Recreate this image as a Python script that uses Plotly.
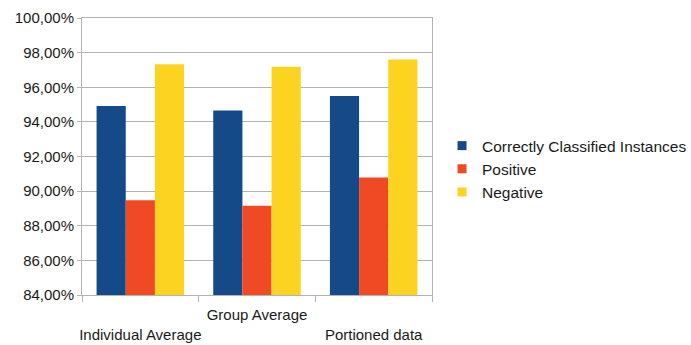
import plotly.graph_objects as go

categories = ["Individual Average", "Group Average", "Portioned data"]
tick_text = ["<br>Individual Average", "Group Average", "<br>Portioned data"]
series_names = ["Correctly Classified Instances", "Positive", "Negative"]
correct = [0.9492, 0.9465, 0.9550]
positive = [0.8947, 0.8916, 0.9078]
negative = [0.9733, 0.9718, 0.9760]
colors = ["#134a87", "#ef4a23", "#fdd322"]

fig = go.Figure()
for name, vals, col in zip(series_names, [correct, positive, negative], colors):
    fig.add_trace(go.Bar(x=categories, y=vals, name=name, marker_color=col,
                         marker_line_width=0, showlegend=False))
    # small square legend swatch
    fig.add_trace(go.Scatter(x=[None], y=[None], mode="markers", name=name,
                             marker=dict(symbol="square", size=9, color=col)))

grid = "#b3b3b3"
fig.update_layout(
    width=691, height=345,
    margin=dict(l=82, r=259, t=18, b=50),
    paper_bgcolor="white", plot_bgcolor="white",
    font=dict(family="Liberation Sans, Arial, sans-serif", size=15, color="#1a1a1a"),
    separators=",.",
    bargap=0.25, bargroupgap=0,
    legend=dict(xref="container", yref="container", x=0.6397, y=0.51,
                xanchor="left", yanchor="middle",
                font=dict(size=15.5), bgcolor="rgba(0,0,0,0)", itemwidth=30,
                tracegroupgap=0),
    xaxis=dict(tickvals=categories, ticktext=tick_text, tickson="boundaries",
               tickangle=0, automargin=False, ticklabelstandoff=6,
               ticks="outside", ticklen=6, tickcolor=grid, showline=True,
               linecolor=grid, mirror=True, showgrid=False, fixedrange=True),
    yaxis=dict(range=[0.84, 1.0], dtick=0.02, tickformat=".2%", automargin=False,
               ticks="outside", ticklen=4, tickcolor=grid, showline=True,
               linecolor=grid, mirror=True, gridcolor=grid, gridwidth=1,
               zeroline=False, fixedrange=True),
)

fig.write_html("out.html")
